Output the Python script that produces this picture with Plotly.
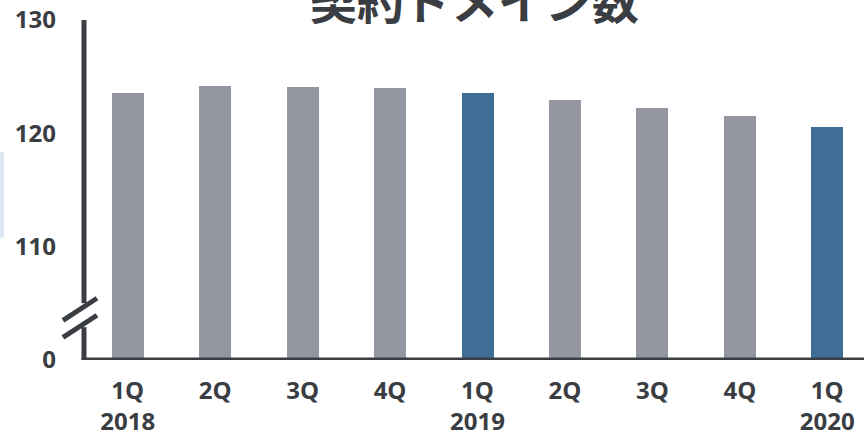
import plotly.graph_objects as go

# Contracted domains per quarter (axis is broken below 110)
quarters = ["1Q", "2Q", "3Q", "4Q", "1Q", "2Q", "3Q", "4Q", "1Q"]
years = ["2018", "", "", "", "2019", "", "", "", "2020"]
domains = [123.6, 124.2, 124.1, 124.0, 123.6, 122.9, 122.2, 121.5, 120.6]
highlight = [False, False, False, False, True, False, False, False, True]

y_ticks = [100, 110, 120, 130]
y_tick_text = ["0", "110", "120", "130"]

GREY = "#9497a1"
BLUE = "#3e6d96"
INK = "#3a3d42"

x = list(range(len(domains)))
tick_text = [q + ("<br>" + y if y else "") for q, y in zip(quarters, years)]
colors = [BLUE if h else GREY for h in highlight]

fig = go.Figure(
    go.Bar(
        x=x,
        y=domains,
        marker=dict(color=colors, line=dict(width=0)),
        width=0.366,
    )
)

W, H = 864, 435
L, R, T, B = 84, 0, 20, 75
pw = W - L - R


def px_x(p):
    return (p - L) / pw


shapes = [
    # y axis, split around the break
    dict(type="line", xref="paper", yref="y", x0=0, x1=0, y0=130, y1=105.0,
         line=dict(color=INK, width=5)),
    dict(type="line", xref="paper", yref="y", x0=0, x1=0, y0=102.9, y1=100,
         line=dict(color=INK, width=5)),
    # break marks
    dict(type="line", xref="paper", yref="y", x0=px_x(63), x1=px_x(97), y0=103.5, y1=105.45,
         line=dict(color=INK, width=5)),
    dict(type="line", xref="paper", yref="y", x0=px_x(63), x1=px_x(97), y0=102.0, y1=103.95,
         line=dict(color=INK, width=5)),
    # x axis
    dict(type="line", xref="paper", yref="y", x0=px_x(81.5), x1=1, y0=100, y1=100,
         line=dict(color=INK, width=5)),
    # side panel edge
    dict(type="rect", xref="paper", yref="paper", x0=px_x(-5), x1=px_x(3),
         y0=(H - B - 237) / (H - T - B), y1=(H - B - 153) / (H - T - B),
         fillcolor="#dde9f5", line=dict(color="#cadcee", width=1), layer="below"),
]

fig.add_annotation(
    text="<b>契約ドメイン数</b>",
    xref="paper", yref="paper",
    x=0.5, y=(H - B - 35) / (H - T - B),
    xanchor="center", yanchor="bottom",
    showarrow=False,
    font=dict(family="Noto Sans CJK JP", size=47, color=INK),
)

fig.update_layout(
    width=W, height=H,
    margin=dict(l=L, r=R, t=T, b=B, pad=0),
    paper_bgcolor="white",
    plot_bgcolor="white",
    showlegend=False,
    shapes=shapes,
    bargap=0,
)

fig.update_xaxes(
    range=[-0.5, 8.42],
    tickmode="array", tickvals=x, ticktext=tick_text,
    tickfont=dict(family="Open Sans", size=24, color=INK, weight="bold"),
    showgrid=False, zeroline=False, showline=False, ticks="",
    ticklabelstandoff=14, automargin=False,
)
fig.update_yaxes(
    range=[100, 130],
    tickmode="array", tickvals=y_ticks, ticktext=y_tick_text,
    tickfont=dict(family="Open Sans", size=24, color=INK, weight="bold"),
    showgrid=False, zeroline=False, showline=False, ticks="",
    ticklabelstandoff=27, automargin=False,
)

fig.write_html("out.html")
